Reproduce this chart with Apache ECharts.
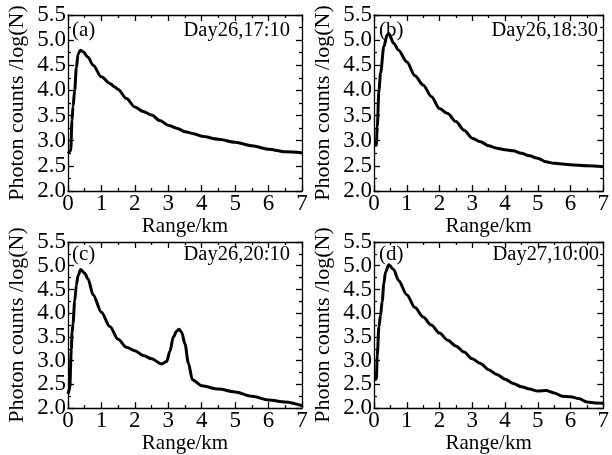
<!DOCTYPE html>
<html>
<head>
<meta charset="utf-8">
<script src="https://cdn.jsdelivr.net/npm/echarts@6/dist/echarts.min.js"></script>
<style>html,body{margin:0;padding:0;background:#fff}#c{width:612px;height:455px}</style>
</head>
<body>
<div id="c"></div>
<script>
// ---- data (Range in km, Photon counts as log(N)) ----
const panelLabels = ['(a)', '(b)', '(c)', '(d)'];
const timeLabels = ['Day26,17:10', 'Day26,18:30', 'Day26,20:10', 'Day27,10:00'];
const xTicks = [0, 1, 2, 3, 4, 5, 6, 7];
const yTicks = [2.0, 2.5, 3.0, 3.5, 4.0, 4.5, 5.0, 5.5];

const rangeA = [0, 0.08, 0.12, 0.15, 0.2, 0.25, 0.3, 0.37, 0.45, 0.6, 0.75, 1.0, 1.25, 1.4, 1.5, 1.75, 2.0, 2.25, 2.5, 2.75, 3.0, 3.25, 3.5, 3.75, 4.0, 4.5, 5.0, 5.5, 6.0, 6.5, 7.0];
const countsA = [2.75, 2.8, 3.4, 3.68, 4.0, 4.45, 4.72, 4.8, 4.77, 4.66, 4.5, 4.27, 4.14, 4.07, 4.02, 3.84, 3.67, 3.58, 3.51, 3.4, 3.31, 3.25, 3.18, 3.14, 3.09, 3.03, 2.97, 2.9, 2.83, 2.78, 2.76];

const rangeB = [0, 0.07, 0.1, 0.15, 0.2, 0.3, 0.4, 0.45, 0.6, 0.75, 1.0, 1.25, 1.5, 1.75, 2.0, 2.25, 2.5, 2.75, 3.0, 3.25, 3.5, 3.75, 4.0, 4.25, 4.5, 4.75, 5.0, 5.25, 5.5, 6.0, 6.5, 7.0];
const countsB = [2.91, 2.91, 3.28, 4.0, 4.34, 4.87, 5.1, 5.13, 4.94, 4.8, 4.57, 4.29, 4.11, 3.88, 3.64, 3.54, 3.38, 3.21, 3.05, 2.98, 2.9, 2.85, 2.82, 2.8, 2.75, 2.7, 2.65, 2.58, 2.55, 2.52, 2.5, 2.48];

const rangeC = [0, 0.05, 0.1, 0.12, 0.15, 0.2, 0.25, 0.3, 0.38, 0.5, 0.6, 0.75, 1.0, 1.25, 1.5, 1.75, 2.0, 2.25, 2.5, 2.8, 2.95, 3.05, 3.15, 3.25, 3.32, 3.4, 3.5, 3.6, 3.72, 4.0, 4.5, 5.0, 5.5, 6.0, 6.5, 7.0];
const countsC = [2.3, 2.4, 3.24, 3.58, 3.78, 4.25, 4.59, 4.79, 4.92, 4.84, 4.72, 4.39, 4.02, 3.72, 3.45, 3.28, 3.21, 3.11, 3.04, 2.93, 2.98, 3.2, 3.5, 3.62, 3.66, 3.6, 3.35, 2.95, 2.6, 2.47, 2.4, 2.34, 2.25, 2.17, 2.13, 2.05];

const rangeD = [0, 0.07, 0.1, 0.15, 0.2, 0.25, 0.3, 0.35, 0.45, 0.6, 0.75, 1.0, 1.25, 1.5, 1.75, 2.0, 2.25, 2.5, 2.75, 3.0, 3.25, 3.5, 3.75, 4.0, 4.25, 4.5, 4.75, 5.0, 5.25, 5.5, 5.75, 6.0, 6.25, 6.5, 6.75, 7.0];
const countsD = [2.61, 2.61, 3.11, 3.72, 3.95, 4.25, 4.62, 4.86, 5.02, 4.92, 4.69, 4.39, 4.12, 3.92, 3.75, 3.58, 3.43, 3.31, 3.18, 3.04, 2.94, 2.81, 2.71, 2.61, 2.52, 2.45, 2.4, 2.36, 2.37, 2.32, 2.25, 2.24, 2.2, 2.13, 2.11, 2.1];

const ranges = [rangeA, rangeB, rangeC, rangeD];
const counts = [countsA, countsB, countsC, countsD];

// ---- layout ----
const FONT = '"Liberation Serif", "Times New Roman", serif';
const grids = [
  {left: 68, top: 15, width: 234, height: 176},
  {left: 374, top: 15, width: 235, height: 176},
  {left: 68, top: 242, width: 234, height: 174},
  {left: 374, top: 242, width: 235, height: 174}
];
const labelPos = [
  {lx: 72, rx: 290, y: 32},
  {lx: 379, rx: 598, y: 32},
  {lx: 72, rx: 290, y: 256},
  {lx: 379, rx: 599, y: 256}
];

const lineStyle = {color: '#000', width: 1.3};
const xAxes = [], yAxes = [], series = [], graphic = [];
const xMin = xTicks[0], xMax = xTicks[xTicks.length - 1];
const yMin = yTicks[0], yMax = yTicks[yTicks.length - 1];

grids.forEach((g, i) => {
  xAxes.push({
    type: 'value', gridIndex: i, min: xMin, max: xMax, interval: 1, position: 'bottom',
    name: 'Range/km', nameLocation: 'middle', nameGap: 13,
    nameTextStyle: {fontFamily: FONT, fontSize: 21, color: '#000'},
    axisLine: {show: true, onZero: false, lineStyle},
    axisTick: {show: true, inside: true, length: 6, lineStyle},
    minorTick: {show: true, splitNumber: 2, length: 3, lineStyle},
    axisLabel: {fontFamily: FONT, fontSize: 23, color: '#000', margin: 1, showMaxLabel: true, showMinLabel: true},
    splitLine: {show: false}
  });
  xAxes.push({
    type: 'value', gridIndex: i, min: xMin, max: xMax, interval: 1, position: 'top',
    axisLine: {show: true, onZero: false, lineStyle},
    axisTick: {show: true, inside: true, length: 6, lineStyle},
    minorTick: {show: true, splitNumber: 2, length: 3, lineStyle},
    axisLabel: {show: false}, splitLine: {show: false}
  });
  yAxes.push({
    type: 'value', gridIndex: i, min: yMin, max: yMax, interval: 0.5, position: 'left',
    name: 'Photon counts /log(N)', nameLocation: 'middle', nameGap: 40,
    nameTextStyle: {fontFamily: FONT, fontSize: 22, color: '#000'},
    axisLine: {show: true, onZero: false, lineStyle},
    axisTick: {show: true, inside: true, length: 6, lineStyle},
    minorTick: {show: true, splitNumber: 2, length: 3, lineStyle},
    axisLabel: {fontFamily: FONT, fontSize: 23, color: '#000', margin: 2, formatter: v => v.toFixed(1)},
    splitLine: {show: false}
  });
  yAxes.push({
    type: 'value', gridIndex: i, min: yMin, max: yMax, interval: 0.5, position: 'right',
    axisLine: {show: true, onZero: false, lineStyle},
    axisTick: {show: true, inside: true, length: 6, lineStyle},
    minorTick: {show: true, splitNumber: 2, length: 3, lineStyle},
    axisLabel: {show: false}, splitLine: {show: false}
  });
  series.push({
    type: 'line', xAxisIndex: 2 * i, yAxisIndex: 2 * i,
    data: ranges[i].map((x, k) => [x, counts[i][k]]),
    showSymbol: false, smooth: 0.3, smoothMonotone: 'x',
    lineStyle: {color: '#000', width: 3}, z: 3
  });
  const p = labelPos[i];
  graphic.push({
    type: 'text', left: p.lx, top: p.y - 12,
    style: {text: panelLabels[i], fontFamily: FONT, fontSize: 21, fill: '#000'}
  });
  graphic.push({
    type: 'text', right: 612 - p.rx, top: p.y - 12,
    style: {text: timeLabels[i], fontFamily: FONT, fontSize: 20.5, fill: '#000'}
  });
});

const chart = echarts.init(document.getElementById('c'), null, {renderer: 'canvas'});
chart.setOption({
  backgroundColor: '#fff',
  animation: false,
  grid: grids,
  xAxis: xAxes,
  yAxis: yAxes,
  series: series,
  graphic: graphic
});
</script>
</body>
</html>
